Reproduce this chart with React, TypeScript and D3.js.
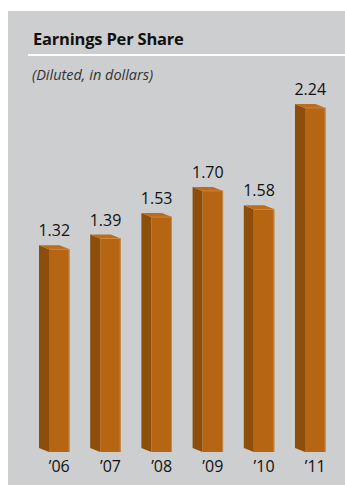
import React from "react";
import * as d3 from "d3";

const years = ["’06", "’07", "’08", "’09", "’10", "’11"];
const values = [1.32, 1.39, 1.53, 1.7, 1.58, 2.24];
const valueLabels = ["1.32", "1.39", "1.53", "1.70", "1.58", "2.24"];

const W = 345;
const H = 486;
const FONT = "'Open Sans', 'Noto Sans', sans-serif";

export default function App() {
  const x = d3
    .scaleBand<string>()
    .domain(years)
    .range([39, 325.5])
    .paddingInner(0.404)
    .paddingOuter(0);
  const y = d3.scaleLinear().domain([0, 2.24]).range([452, 108]);

  const depthX = 10;
  const depthY = 4;
  const bw = x.bandwidth();
  const fw = bw - depthX;

  return (
    <svg
      width={W}
      height={H}
      style={{ position: "fixed", left: 0, top: 0, display: "block" }}
    >
      <rect x={0} y={0} width={W} height={H} fill="#ffffff" />
      <rect x={8} y={11} width={W - 8} height={474} fill="#cdced0" />
      <text x={33} y={45} fontFamily={FONT} fontWeight={700} fontSize={16.5} fill="#111" letterSpacing={-0.2}>
        Earnings Per Share
      </text>
      <rect x={28} y={54} width={W - 28} height={2} fill="#ffffff" />
      <text x={32} y={80} fontFamily={FONT} fontStyle="italic" fontSize={14.5} fill="#333">
        (Diluted, in dollars)
      </text>
      {years.map((yr, i) => {
        const gx = x(yr) as number;
        const fx = gx + depthX;
        const top = y(values[i]);
        const bottom = y(0);
        const side = `M${gx},${top - depthY} L${fx},${top} L${fx},${bottom} L${gx},${bottom - depthY} Z`;
        const topFace = `M${gx},${top - depthY} L${gx + fw},${top - depthY} L${fx + fw},${top} L${fx},${top} Z`;
        return (
          <g key={yr}>
            <path d={side} fill="#8d4d0b" />
            <rect x={fx} y={top} width={fw} height={bottom - top} fill="#b66513" />
            <path d={topFace} fill="#bd6c1c" />
            <line x1={fx + fw - 0.5} x2={fx + fw - 0.5} y1={top} y2={bottom} stroke="#c98a4c" strokeWidth={1} />
            <line x1={fx} x2={fx + fw} y1={top} y2={top} stroke="#d08a45" strokeWidth={0.8} />
            <text
              x={gx + bw / 2}
              y={top - 13}
              textAnchor="middle"
              fontFamily={FONT}
              fontSize={16}
              fill="#111"
            >
              {valueLabels[i]}
            </text>
            <text
              x={fx + fw / 2}
              y={472}
              textAnchor="middle"
              fontFamily={FONT}
              fontSize={16}
              fill="#111"
            >
              {yr}
            </text>
          </g>
        );
      })}
    </svg>
  );
}
